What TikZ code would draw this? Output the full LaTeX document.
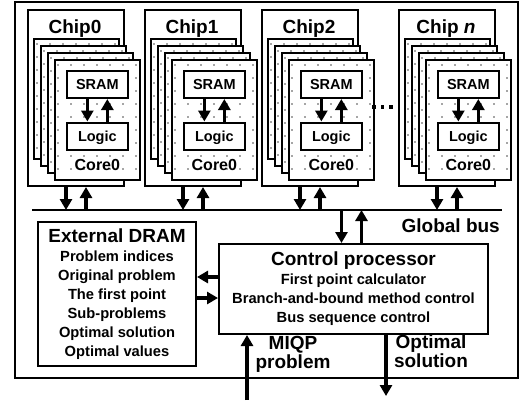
\documentclass[tikz,border=0pt]{standalone}
\usepackage{fontspec}
\setmainfont{Liberation Sans}
\usetikzlibrary{arrows.meta}
\tikzset{
	box/.style={draw,line width=2pt,fill=white,inner sep=0pt},
	frame node/.style={draw,line width=2.2pt,anchor=north west,minimum width=503pt,minimum height=376pt,inner sep=0pt},
	chip node/.style={box,anchor=north west,minimum width=96pt,minimum height=176pt},
	core node/.style={box,line width=1.7pt,anchor=north west,minimum width=85pt,minimum height=120pt},
	unit node/.style={box,minimum width=61pt,minimum height=27pt,text height=10.3pt,text depth=0pt,font=\fontsize{14.5}{16}\bfseries},
	big node/.style={box,anchor=north west,align=center,font=\fontsize{14.7}{19}\bfseries},
	head/.style={font=\fontsize{19}{19}\bfseries,inner sep=0pt},
	core label/.style={font=\fontsize{16}{16}\bfseries,inner sep=0pt},
	dot/.style={black!70},
	big arrow/.style={->,line width=3.3pt},
	bus line/.style={line width=1.6pt}
}

\begin{document}
\begin{tikzpicture}[>={Triangle[length=11pt,width=12pt]},x=1pt,y=-1pt]
	\useasboundingbox (0,0) rectangle (529,400);
	\node[frame node] (frame) at (14,1) {};

	% chips with their stacked cores
	\foreach \nm/\px/\lab in {0/27/Chip0,1/144/Chip1,2/261/Chip2,n/398/{Chip \textit{n}}}{
		\node[chip node] (chip\nm) at (\px,9) {};
		\node[head,anchor=base] (chiplab\nm) at (\px+48,33) {\lab};
		\foreach \k in {0,...,3}{
			\node[core node] (core\nm\k) at (\px+6+7*\k,38+7*\k) {};
			\foreach \i in {0,...,6}
				\foreach \j in {0,...,8}
					\fill[dot] ([shift={(4+13*\i,6+13*\j)}]core\nm\k.north west) circle (0.9pt);
		}
		\node[unit node] (sram\nm) at ([yshift=-25.5pt]core\nm3.north) {SRAM};
		\node[unit node] (logic\nm) at ([yshift=-77pt]core\nm3.north) {Logic};
		\node[core label,anchor=base] (corelab\nm) at ([yshift=10pt]core\nm3.south) {Core0};
		\draw[big arrow] ([xshift=-10pt]sram\nm.south) -- ([xshift=-10pt]logic\nm.north);
		\draw[big arrow] ([xshift=10pt]logic\nm.north) -- ([xshift=10pt]sram\nm.south);
	}
	\foreach \d in {0,1,2}
		\fill (372+8.5*\d,105) rectangle ++(3.8,3.8);

	% global bus
	\coordinate (busW) at (32,210);
	\coordinate (busE) at (502,210);
	\draw[bus line] (busW) -- (busE);
	\node[head,anchor=base east] (buslab) at (500,232) {Global bus};
	\foreach \nm in {0,1,2,n}{
		\draw[big arrow] ([xshift=-10pt]chip\nm.south) -- ([xshift=-10pt]chip\nm.south |- busW);
		\draw[big arrow] ([xshift=10pt]chip\nm.south |- busW) -- ([xshift=10pt]chip\nm.south);
	}

	% memory and controller
	\node[big node,minimum width=158pt,minimum height=144pt] (dram) at (37,221)
		{{\fontsize{19}{19}\selectfont External DRAM}\\Problem indices\\Original problem\\The first point\\Sub-problems\\Optimal solution\\Optimal values};
	\node[big node,minimum width=269pt,minimum height=90pt] (cp) at (218,243)
		{{\fontsize{19}{19}\selectfont Control processor}\\First point calculator\\Branch-and-bound method control\\Bus sequence control};

	\draw[big arrow] ([xshift=-12pt]cp.north |- busW) -- ([xshift=-12pt]cp.north);
	\draw[big arrow] ([xshift=8pt]cp.north) -- ([xshift=8pt]cp.north |- busW);
	\draw[big arrow] ([yshift=12pt]cp.west) -- ([yshift=12pt]cp.west -| dram.east);
	\draw[big arrow] ([yshift=-9pt]cp.west -| dram.east) -- ([yshift=-9pt]cp.west);

	% problem in, solution out
	\coordinate (miqpin) at (247,400);
	\coordinate (optout) at (386,396);
	\draw[big arrow] (miqpin) -- (miqpin |- cp.south);
	\draw[big arrow] (optout |- cp.south) -- (optout);
	\node[head,align=center] (miqplab) at (293,354.5) {MIQP\\problem};
	\node[head,align=center] (optlab) at (431,351.5) {Optimal\\solution};
\end{tikzpicture}
\end{document}
